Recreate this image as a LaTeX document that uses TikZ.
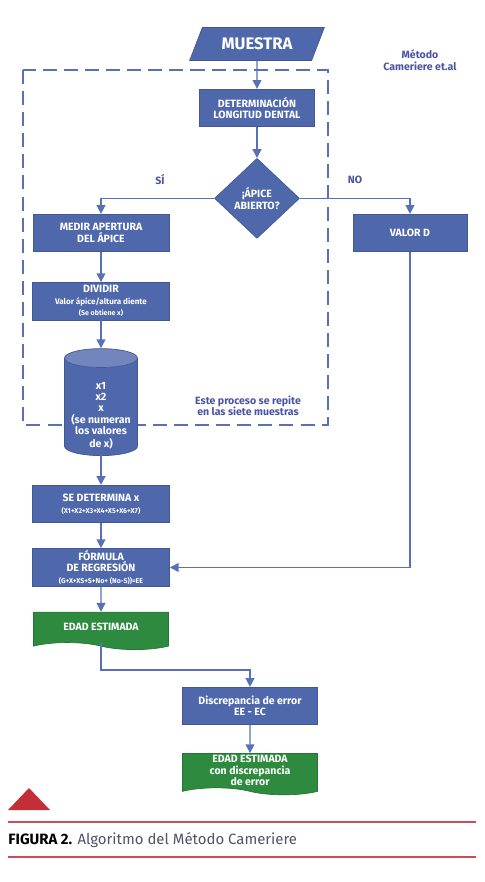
\documentclass[tikz,border=0pt]{standalone}
\usepackage{fontspec}
\setmainfont{Fira Sans}
\usepackage{xcolor}
\usetikzlibrary{shapes.geometric, shapes.symbols, arrows.meta, positioning, calc}
\definecolor{flowblue}{RGB}{79, 104, 172}
\definecolor{linkblue}{RGB}{88, 112, 186}
\definecolor{flowgreen}{RGB}{46, 138, 62}
\definecolor{labelblue}{RGB}{72, 84, 160}
\definecolor{capred}{RGB}{196, 46, 56}
\definecolor{capgray}{RGB}{80, 82, 104}

\begin{document}
\begin{tikzpicture}[x=0.02cm, y=-0.02cm,
    stepbox/.style={
        rectangle, draw=flowblue!85!black, fill=flowblue, text=white,
        font=\bfseries\fontsize{6}{6.6}\selectfont, align=center,
        minimum width=2.74cm, minimum height=0.75cm, inner sep=1pt
    },
    inbox/.style={
        trapezium, trapezium left angle=68, trapezium right angle=112,
        trapezium stretches=true, draw=flowblue!85!black, fill=flowblue, text=white,
        font=\bfseries\fontsize{9.5}{10}\selectfont,
        minimum width=2.7cm, minimum height=0.66cm
    },
    askbox/.style={
        diamond, aspect=1.05, draw=flowblue!85!black, fill=flowblue, text=white,
        font=\bfseries\fontsize{6}{6.6}\selectfont, align=center,
        minimum width=1.7cm, minimum height=1.6cm, inner sep=0pt
    },
    databox/.style={
        cylinder, shape border rotate=90, aspect=0.3,
        draw=flowblue!85!black, cylinder uses custom fill,
        cylinder body fill=flowblue, cylinder end fill=flowblue!80!white,
        text=white, font=\bfseries\fontsize{6}{6.1}\selectfont,
        minimum width=1.46cm, minimum height=2.14cm, inner sep=1pt
    },
    endbox/.style={
        tape, tape bend top=none, tape bend bottom=out and in, tape bend height=4pt,
        draw=flowgreen!85!black, fill=flowgreen, text=white,
        font=\bfseries\fontsize{6}{6.6}\selectfont, align=center,
        minimum width=2.7cm, minimum height=0.75cm, inner sep=1pt
    },
    note/.style={text=labelblue, font=\bfseries\fontsize{6}{6.6}\selectfont, align=center},
    arrow/.style={-{Triangle[width=5pt, length=5pt]}, draw=linkblue, line width=0.8pt}
]
    \useasboundingbox (0,0) rectangle (484,882);

    % region repeated for the seven teeth
    \draw [linkblue, line width=1.1pt, dash pattern=on 8pt off 4pt] (23,70) rectangle (328,425);

    \node [inbox] (muestra) at (257,44) {MUESTRA};
    \node [note] (metodo) at (420,60) {Método\\Cameriere et.al};

    \node [stepbox, minimum width=2.3cm, below=0.56cm of muestra] (deter) {DETERMINACIÓN\\LONGITUD DENTAL};
    \node [askbox, below=0.62cm of deter] (apice) {¡ÁPICE\\ABIERTO?};

    \node [stepbox, minimum width=2.72cm] (medir) at (101,233) {MEDIR APERTURA\\DEL ÁPICE};
    \node [stepbox, minimum width=2.28cm] (valor) at (410,233) {VALOR D};

    \node [note] (si) at (160,180) {SÍ};
    \node [note] (no) at (355,180) {NO};

    \node [stepbox, below=0.6cm of medir] (dividir) {DIVIDIR\\
        {\fontsize{4.6}{5}\selectfont Valor ápice/altura diente}\\
        {\fontsize{4}{4.6}\selectfont (Se obtiene x)}};

    \node [databox, below=0.56cm of dividir] (datos)
        {\raisebox{-6pt}[0pt][0pt]{\begin{tabular}{@{}c@{}}x1\\x2\\x\\(se numeran\\los valores\\de x)\end{tabular}}};

    \node [note] (repite) at (248,406) {Este proceso se repite\\en las siete muestras};

    \node [stepbox, below=0.58cm of datos] (sedet) {SE DETERMINA x\\
        {\fontsize{4}{4.6}\selectfont (X1+X2+X3+X4+X5+X6+X7)}};
    \node [stepbox, below=0.5cm of sedet] (formula) {FÓRMULA\\DE REGRESIÓN\\
        {\fontsize{4}{4.6}\selectfont (G+X+XS+S+No+ (No-S))=EE}};
    \node [endbox, below=0.5cm of formula] (edad) {EDAD ESTIMADA};

    \node [stepbox, minimum width=2.7cm] (disc) at (250,706) {Discrepancia de error\\EE - EC};
    \node [endbox, below=0.56cm of disc] (edadfin) {EDAD ESTIMADA\\con discrepancia\\de error};

    \draw [arrow] (muestra) -- (deter);
    \draw [arrow] (deter) -- (apice);
    \draw [arrow] (apice.west) -| (medir.north);
    \draw [arrow] (apice.east) -| (valor.north);
    \draw [arrow] (medir) -- (dividir);
    \draw [arrow] (dividir) -- (datos);
    \draw [arrow] (datos) -- (sedet);
    \draw [arrow] (sedet) -- (formula);
    \draw [arrow] (valor.south) |- (formula.east);
    \draw [arrow] (formula) -- (edad);
    \draw [arrow] (edad.south) -- ++(0,27) -| (disc.north);
    \draw [arrow] (disc) -- (edadfin);

    % caption
    \fill [capred] (8,810) -- (29,788) -- (50,810) -- cycle;
    \draw [capred!85!white, line width=1.1pt] (8,822) -- (476,822);
    \draw [capred!85!white, line width=1.1pt] (8,857) -- (476,857);
    \node [anchor=west, inner sep=0pt, font=\fontsize{8.5}{10}\selectfont, text=capgray] (caption) at (8,840)
        {\textbf{\textcolor{black}{FIGURA 2.}} Algoritmo del Método Cameriere};
\end{tikzpicture}
\end{document}
